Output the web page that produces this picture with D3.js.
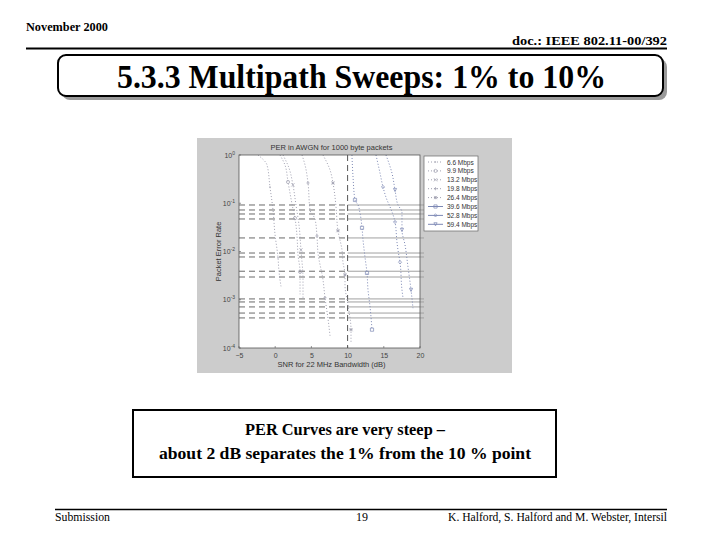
<!DOCTYPE html>
<html><head><meta charset="utf-8">
<script src="https://cdn.jsdelivr.net/npm/d3@7"></script>
<style>body{margin:0;background:#fff}svg{display:block}</style>
</head><body>
<svg id="s" width="720" height="540"></svg>
<script>
// ---------- data ----------
const snrTicks = [-5, 0, 5, 10, 15, 20];
const perExponents = [0, -1, -2, -3, -4];
const rateLabels = ["6.6 Mbps", "9.9 Mbps", "13.2 Mbps", "19.8 Mbps", "26.4 Mbps", "39.6 Mbps", "52.8 Mbps", "59.4 Mbps"];
const per6_6  = [[-2.38,1],[-1.13,0.62],[-0.72,0.217],[-0.30,0.072],[-0.03,0.023],[0.39,0.0074],[0.52,0.0039],[0.80,0.0019]];
const per9_9  = [[0.66,1],[1.35,0.62],[1.77,0.276],[2.04,0.163],[2.46,0.076],[2.73,0.049],[3.01,0.021],[3.15,0.0085],[3.43,0.0038],[3.43,0.0013]];
const per13_2 = [[1.08,1],[1.9,0.54],[2.45,0.24],[2.87,0.092],[3.29,0.035],[3.56,0.0108],[3.84,0.0026],[3.84,0.0011]];
const per19_8 = [[3.70,1],[4.12,0.62],[4.53,0.263],[4.81,0.072],[5.50,0.047],[5.77,0.021],[5.91,0.0093],[6.60,0.0026],[6.88,0.0011],[7.29,0.00041],[7.57,0.00018]];
const per26_4 = [[6.60,1],[7.57,0.49],[7.98,0.263],[8.26,0.135],[8.40,0.084],[8.67,0.027],[9.23,0.0107],[9.36,0.006],[9.64,0.0033],[9.64,0.002],[10.06,0.00078],[10.47,0.00024],[10.47,0.00013]];
const per39_6 = [[10.6,1],[10.75,0.35],[11.02,0.117],[11.44,0.092],[11.71,0.063],[11.99,0.031],[12.13,0.0174],[12.40,0.0077],[12.68,0.0036],[12.82,0.0016],[13.09,0.00074],[13.37,0.00024]];
const per52_8 = [[13.92,1],[14.48,0.42],[14.89,0.217],[15.44,0.117],[15.86,0.084],[16.55,0.041],[16.82,0.0157],[16.96,0.0107],[17.24,0.006],[17.51,0.0016],[17.65,0.0011]];
const per59_4 = [[15.30,1],[16.13,0.42],[16.55,0.188],[16.96,0.092],[17.51,0.066],[17.51,0.028],[17.93,0.0137],[18.34,0.0048],[18.76,0.0016],[19.03,0.00067]];
const seriesValues = [per6_6, per9_9, per13_2, per19_8, per26_4, per39_6, per52_8, per59_4];
const refLevels = [0.092, 0.0725, 0.0599, 0.0472, 0.0191, 0.0093, 0.0077, 0.0039, 0.00296, 0.00104, 0.00090, 0.00071, 0.00053, 0.00042];
const refSnr = 10;

// ---------- slide ----------
const svg = d3.select("#s");
const serif = "'Liberation Serif','Times New Roman',Times,serif";
const sans = "'Liberation Sans',Arial,sans-serif";

function txt(x, y, s, size, opts = {}) {
  const t = svg.append("text").attr("x", x).attr("y", y).text(s)
    .attr("font-family", opts.family || serif).attr("font-size", size)
    .attr("font-weight", opts.bold ? "bold" : "normal")
    .attr("text-anchor", opts.anchor || "start").attr("fill", opts.fill || "#000");
  if (opts.len) t.attr("textLength", opts.len).attr("lengthAdjust", "spacingAndGlyphs");
  return t;
}

txt(26, 31, "November 2000", 13, {bold: true, len: 82});
txt(667, 45, "doc.: IEEE 802.11-00/392", 13, {bold: true, anchor: "end", len: 155});
svg.append("line").attr("x1", 26).attr("x2", 667).attr("y1", 48.5).attr("y2", 48.5).attr("stroke", "#000").attr("stroke-width", 2);

svg.append("rect").attr("x", 62).attr("y", 59).attr("width", 605).attr("height", 41).attr("rx", 8).attr("fill", "#9a9a9a");
svg.append("rect").attr("x", 58).attr("y", 55).attr("width", 605).attr("height", 41).attr("rx", 8).attr("fill", "#fff").attr("stroke", "#000").attr("stroke-width", 2);
txt(361.5, 88, "5.3.3 Multipath Sweeps: 1% to 10%", 34, {bold: true, anchor: "middle", len: 489});

svg.append("rect").attr("x", 133).attr("y", 410).attr("width", 423).attr("height", 67).attr("fill", "#fff").attr("stroke", "#000").attr("stroke-width", 2);
txt(345, 435, "PER Curves are very steep \u2013", 17, {bold: true, anchor: "middle", len: 200});
txt(345, 459, "about 2 dB separates the 1% from the 10 % point", 17, {bold: true, anchor: "middle", len: 372});

svg.append("line").attr("x1", 55).attr("x2", 667).attr("y1", 509.5).attr("y2", 509.5).attr("stroke", "#000").attr("stroke-width", 1.5);
txt(55, 521, "Submission", 12, {len: 55});
txt(362, 521, "19", 12, {anchor: "middle"});
txt(667, 521, "K. Halford,  S. Halford and M. Webster, Intersil", 12, {anchor: "end", len: 219});

// ---------- chart ----------
svg.append("rect").attr("x", 197).attr("y", 138).attr("width", 315).attr("height", 235).attr("fill", "#cccccc");
const x = d3.scaleLinear().domain([-5, 20]).range([239, 420]);
const y = d3.scaleLog().domain([1e-4, 1]).range([348, 155]);
const g = svg.append("g");
g.append("rect").attr("x", x(-5)).attr("y", y(1)).attr("width", x(20) - x(-5)).attr("height", y(1e-4) - y(1)).attr("fill", "#fff");

// reference lines
refLevels.forEach(v => {
  g.append("line").attr("x1", x(-5)).attr("x2", x(refSnr)).attr("y1", y(v)).attr("y2", y(v))
    .attr("stroke", "#6a6a6a").attr("stroke-width", 1).attr("stroke-dasharray", "6,4");
  g.append("line").attr("x1", x(refSnr)).attr("x2", x(20) + 4).attr("y1", y(v)).attr("y2", y(v))
    .attr("stroke", "#a0a0a0").attr("stroke-width", 1);
});
g.append("line").attr("x1", x(refSnr)).attr("x2", x(refSnr)).attr("y1", y(1)).attr("y2", y(1e-4))
  .attr("stroke", "#555").attr("stroke-width", 1).attr("stroke-dasharray", "6,4");

// markers
function marker(sel, kind, cx, cy, r, color) {
  const p = d3.path();
  if (kind === "dot") { sel.append("circle").attr("cx", cx).attr("cy", cy).attr("r", 0.7).attr("fill", color); return; }
  if (kind === "o") { sel.append("circle").attr("cx", cx).attr("cy", cy).attr("r", r).attr("fill", "none").attr("stroke", color).attr("stroke-width", 0.7); return; }
  if (kind === "x" || kind === "*") { p.moveTo(cx - r, cy - r); p.lineTo(cx + r, cy + r); p.moveTo(cx - r, cy + r); p.lineTo(cx + r, cy - r); }
  if (kind === "+" || kind === "*") { p.moveTo(cx - r, cy); p.lineTo(cx + r, cy); p.moveTo(cx, cy - r); p.lineTo(cx, cy + r); }
  if (kind === "s") { p.rect(cx - r, cy - r, 2 * r, 2 * r); }
  if (kind === "d") { p.moveTo(cx, cy - r); p.lineTo(cx + r, cy); p.lineTo(cx, cy + r); p.lineTo(cx - r, cy); p.closePath(); }
  if (kind === "v") { p.moveTo(cx - r, cy - r); p.lineTo(cx + r, cy - r); p.lineTo(cx, cy + r); p.closePath(); }
  sel.append("path").attr("d", p.toString()).attr("fill", "none").attr("stroke", color).attr("stroke-width", 0.7);
}
const markerKinds = ["dot", "o", "x", "+", "*", "s", "d", "v"];
const colors = ["#a0a0b0", "#a0a0b0", "#a0a0b0", "#a0a0b0", "#a0a0b0", "#7c88b4", "#7c88b4", "#7c88b4"];
const line = d3.line().x(d => x(d[0])).y(d => y(d[1])).curve(d3.curveMonotoneY);

seriesValues.forEach((vals, i) => {
  g.append("path").attr("d", line(vals)).attr("fill", "none").attr("stroke", colors[i])
    .attr("stroke-width", 1).attr("stroke-dasharray", "1,2");
  vals.forEach((d, j) => { if (j % 3 === 2) marker(g, markerKinds[i], x(d[0]), y(d[1]), 1.6, colors[i]); });
});

// axes box + ticks
g.append("rect").attr("x", x(-5)).attr("y", y(1)).attr("width", x(20) - x(-5)).attr("height", y(1e-4) - y(1))
  .attr("fill", "none").attr("stroke", "#555").attr("stroke-width", 0.8);
const xAxis = d3.axisBottom(x).tickValues(snrTicks).tickSize(0).tickPadding(5);
const xa = g.append("g").attr("transform", `translate(0,${y(1e-4)})`).call(xAxis);
xa.select(".domain").remove();
xa.selectAll("text").attr("font-family", sans).attr("font-size", 7).attr("fill", "#444");
snrTicks.forEach(t => {
  g.append("line").attr("x1", x(t)).attr("x2", x(t)).attr("y1", y(1e-4)).attr("y2", y(1e-4) - 2).attr("stroke", "#555").attr("stroke-width", 0.6);
});
perExponents.forEach(e => {
  const v = Math.pow(10, e);
  const t = g.append("text").attr("x", 235).attr("y", y(v) + 2.5).attr("text-anchor", "end")
    .attr("font-family", sans).attr("font-size", 7).attr("fill", "#444");
  t.append("tspan").text("10");
  t.append("tspan").attr("dy", -3).attr("font-size", 5).text(String(e));
  g.append("line").attr("x1", x(-5)).attr("x2", x(-5) + 2).attr("y1", y(v)).attr("y2", y(v)).attr("stroke", "#555").attr("stroke-width", 0.6);
});

g.append("text").attr("x", (x(-5) + x(20)) / 2 + 2).attr("y", 150).attr("text-anchor", "middle")
  .attr("font-family", sans).attr("font-size", 7.5).attr("fill", "#333").text("PER in AWGN for 1000 byte packets");
g.append("text").attr("x", (x(-5) + x(20)) / 2 + 2).attr("y", 367).attr("text-anchor", "middle")
  .attr("font-family", sans).attr("font-size", 7.5).attr("fill", "#333").text("SNR for 22 MHz Bandwidth (dB)");
g.append("text").attr("transform", `translate(221,${(y(1) + y(1e-4)) / 2}) rotate(-90)`).attr("text-anchor", "middle")
  .attr("font-family", sans).attr("font-size", 7.5).attr("fill", "#333").text("Packet Error Rate");

// legend
const lg = g.append("g");
lg.append("rect").attr("x", 424).attr("y", 156).attr("width", 54).attr("height", 75).attr("fill", "#fff").attr("stroke", "#666").attr("stroke-width", 0.7);
rateLabels.forEach((lab, i) => {
  const ly = 162 + i * 8.9;
  const solid = i >= 5;
  lg.append("line").attr("x1", 428).attr("x2", 443).attr("y1", ly).attr("y2", ly).attr("stroke", colors[i])
    .attr("stroke-width", 1).attr("stroke-dasharray", solid ? null : "1,2");
  marker(lg, markerKinds[i], 435.5, ly, 1.6, colors[i]);
  lg.append("text").attr("x", 447).attr("y", ly + 2.5).attr("font-family", sans).attr("font-size", 6.5).attr("fill", "#333").text(lab);
});
</script>
</body></html>
